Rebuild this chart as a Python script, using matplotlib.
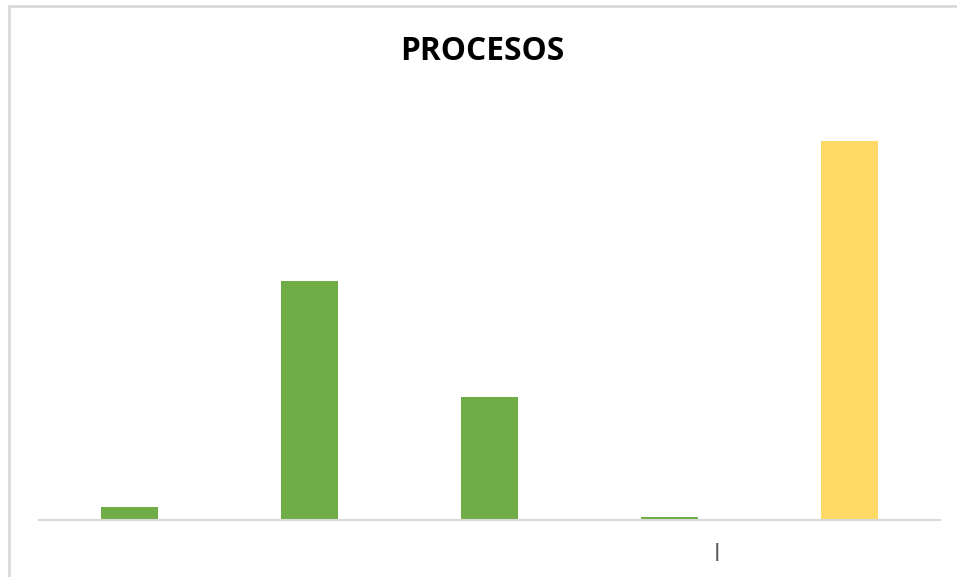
import numpy as np
import matplotlib.pyplot as plt
from matplotlib.patches import Rectangle

# datos (escala relativa)
categorias = ["A", "B", "C", "D", "E"]
valores = [1.0, 18.9, 9.75, 0.25, 30.0]
colores = ["#70AD47", "#70AD47", "#70AD47", "#70AD47", "#FFD966"]

W, H = 957, 577
fig = plt.figure(figsize=(W / 100, H / 100), dpi=100)

# marco del gráfico
fig.patches.append(Rectangle((8.5 / W, -0.1), 1.2, (H - 5.5) / H + 0.1,
                             transform=fig.transFigure, fill=False,
                             edgecolor="#D9D9D9", linewidth=2))

# área de trazado
left, right = 39 / W, 940 / W
bottom, top = (H - 520) / H, (H - 100) / H
ax = fig.add_axes([left, bottom, right - left, top - bottom])

x = np.arange(len(categorias))
ax.bar(x, valores, width=0.316, color=colores)

ax.set_xlim(-0.5, len(categorias) - 0.5)
ax.set_ylim(0, valores[-1] * 420 / 379)
ax.set_xticks([])
ax.set_yticks([])
for s in ["top", "left", "right"]:
    ax.spines[s].set_visible(False)
ax.spines["bottom"].set_color("#D9D9D9")
ax.spines["bottom"].set_linewidth(1.5)

fig.text(482 / W, 1 - 51 / H, "PROCESOS", ha="center", va="center",
         fontsize=22.8, fontweight="bold", family="Open Sans")

# marca suelta bajo el eje
fig.text(717 / W, 1 - 552 / H, "|", ha="center", va="center",
         fontsize=13, fontweight="bold", color="#595959")

fig.savefig("out.png", dpi=100)
